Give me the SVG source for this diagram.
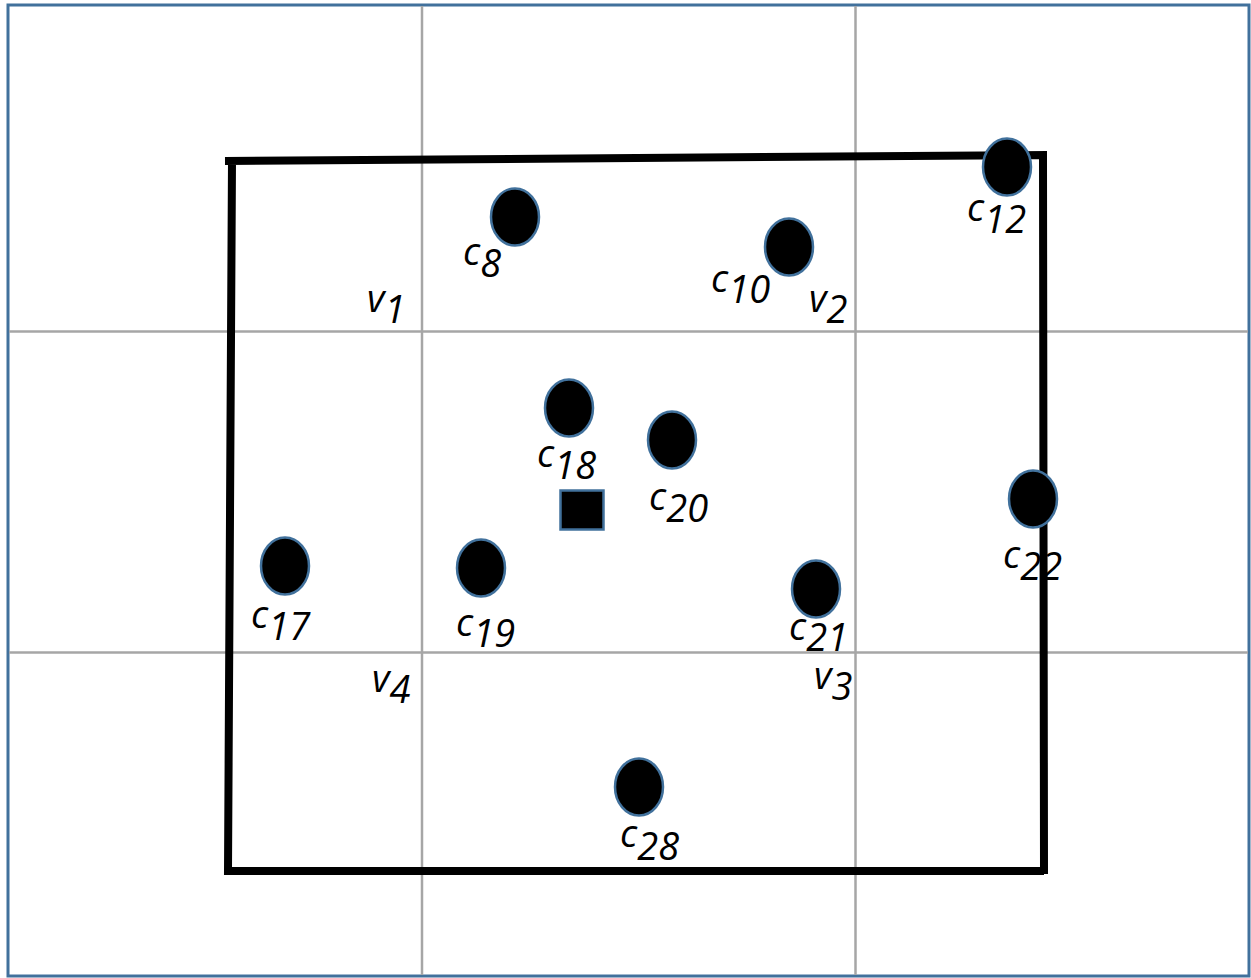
<svg xmlns="http://www.w3.org/2000/svg" width="1251" height="978" viewBox="0 0 1251 978">
<style>
.grid{stroke:#a6a6a6;stroke-width:2.5;fill:none}
.frame{stroke:#41719c;stroke-width:3;fill:#fff}
.poly{stroke:#000;stroke-width:8;fill:none;stroke-linejoin:miter}
.pt{fill:#000;stroke:#41719c;stroke-width:2.5}
.lbl{font-family:"Open Sans","Noto Sans",sans-serif;font-style:italic;font-size:38px;fill:#000}
</style>
<rect class="frame" x="8" y="5" width="1241" height="971"/>
<g id="grid">
<line class="grid" x1="422" y1="6" x2="422" y2="975"/>
<line class="grid" x1="855.5" y1="6" x2="855.5" y2="975"/>
<line class="grid" x1="9" y1="331.5" x2="1248" y2="331.5"/>
<line class="grid" x1="9" y1="652.5" x2="1248" y2="652.5"/>
</g>
<g id="connectors">
<path class="poly" d="M225,161 L1043,155 L1044,874 M232,161 L228,871 L1044,871"/>
</g>
<g id="c8"><ellipse class="pt" cx="515" cy="217" rx="24" ry="28.5"/><text class="lbl" x="463" y="265">c<tspan dy="12">8</tspan></text></g>
<g id="c10"><ellipse class="pt" cx="789" cy="247" rx="24" ry="28.5"/><text class="lbl" x="711" y="292">c<tspan dy="11">10</tspan></text></g>
<g id="c12"><ellipse class="pt" cx="1007" cy="167" rx="24" ry="28.5"/><text class="lbl" x="967" y="221">c<tspan dy="12">12</tspan></text></g>
<g id="c18"><ellipse class="pt" cx="569" cy="408" rx="24" ry="28.5"/><text class="lbl" x="537" y="467">c<tspan dy="12">18</tspan></text></g>
<g id="c20"><ellipse class="pt" cx="672" cy="440" rx="24" ry="28.5"/><text class="lbl" x="649" y="510">c<tspan dy="12">20</tspan></text></g>
<g id="c17"><ellipse class="pt" cx="285" cy="566" rx="24" ry="28.5"/><text class="lbl" x="251" y="628">c<tspan dy="12">17</tspan></text></g>
<g id="c19"><ellipse class="pt" cx="481" cy="568" rx="24" ry="28.5"/><text class="lbl" x="456" y="636">c<tspan dy="11">19</tspan></text></g>
<g id="c21"><ellipse class="pt" cx="816" cy="589" rx="24" ry="28.5"/><text class="lbl" x="789" y="640">c<tspan dy="11">21</tspan></text></g>
<g id="c22"><ellipse class="pt" cx="1033" cy="499" rx="24" ry="28.5"/><text class="lbl" x="1003" y="568">c<tspan dy="12">22</tspan></text></g>
<g id="c28"><ellipse class="pt" cx="639" cy="787" rx="24" ry="28.5"/><text class="lbl" x="620" y="847">c<tspan dy="13">28</tspan></text></g>
<g id="square"><rect class="pt" x="560.5" y="490.5" width="43" height="39" stroke-width="3"/></g>
<g id="v1"><text class="lbl" x="367" y="312">v<tspan dy="11">1</tspan></text></g>
<g id="v2"><text class="lbl" x="809" y="312">v<tspan dy="11">2</tspan></text></g>
<g id="v3"><text class="lbl" x="814" y="689">v<tspan dy="11">3</tspan></text></g>
<g id="v4"><text class="lbl" x="372" y="692">v<tspan dy="11">4</tspan></text></g>
</svg>
